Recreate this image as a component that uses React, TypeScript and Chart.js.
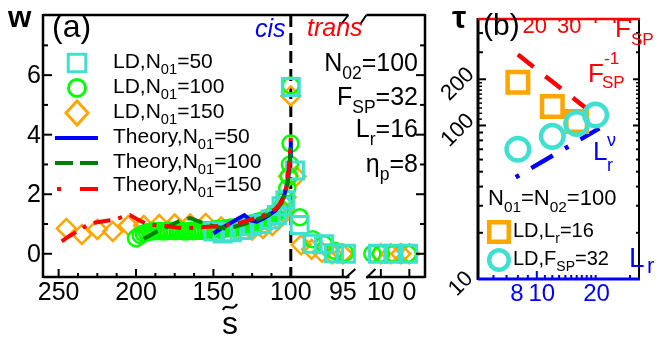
import React, { useEffect, useRef } from 'react';
import { Chart, registerables, LinearScale } from 'chart.js';

Chart.register(...registerables);

const FONT = '"Liberation Sans", Arial, Helvetica, sans-serif';

// ---------------- Panel (a) data ----------------
// LD, N01=50 (squares)
const ld50S = [150, 144, 138, 131, 125, 119, 113, 109, 106, 103.5, 100, 99.6, 99.15, 97.9, 96.8, 95.85, 94.7, 11, 5.5, 0.5];
const ld50W = [0.75, 0.68, 0.72, 0.8, 0.92, 1.0, 1.15, 1.3, 1.6, 1.8, 5.6, 2.8, 0.97, 0.34, 0.32, 0.02, 0.0, 0, 0, 0];
// LD, N01=100 (circles)
const ld100S = [200, 197, 195, 193, 191, 189, 187, 185, 183, 181, 179, 177, 175, 173, 171, 169, 167, 165, 163, 161, 159, 157, 155, 153, 151, 149, 147, 145, 143, 141, 139, 137, 135, 133, 131, 129, 127, 125, 123, 121, 119, 117, 115, 113, 111, 109, 107, 105, 103.5, 102.3, 101.3, 100.6, 100.2, 100, 99.15, 97.9, 96.8, 95.8, 94.8, 13, 10, 5.5, 0.5];
const ld100W = [0.52, 0.62, 0.68, 0.72, 0.74, 0.76, 0.76, 0.77, 0.75, 0.76, 0.78, 0.77, 0.76, 0.78, 0.77, 0.75, 0.76, 0.77, 0.76, 0.78, 0.77, 0.78, 0.8, 0.78, 0.8, 0.82, 0.83, 0.8, 0.85, 0.86, 0.88, 0.87, 0.9, 0.92, 0.95, 0.97, 1.0, 1.02, 1.05, 1.08, 1.1, 1.15, 1.2, 1.25, 1.32, 1.4, 1.5, 1.65, 1.85, 2.2, 2.6, 3.0, 3.7, 5.65, 1.23, 0.49, 0.32, 0.1, 0.03, 0, 0, 0, 0];
// LD, N01=150 (diamonds)
const ld150S = [245, 235, 225, 215, 205, 195, 185, 175, 165, 155, 145, 135, 125, 118, 112, 108, 105, 103, 101.5, 100, 99.5, 99, 98, 97, 96, 95, 10, 6.5, 3, 0];
const ld150W = [0.85, 0.65, 0.82, 0.75, 0.95, 0.95, 0.98, 1.0, 1.0, 1.02, 0.9, 0.8, 0.8, 0.85, 0.95, 1.15, 1.4, 1.9, 2.6, 5.3, 2.6, 0.3, 0.15, 0.05, 0, 0, 0, 0, 0, 0];
// Theory curves
const th50S = [150, 145, 140, 135, 130, 126, 122, 118, 114, 110, 107, 104, 102, 101, 100.4, 100];
const th50W = [0.68, 0.85, 1.0, 1.15, 1.3, 1.12, 1.08, 1.18, 1.3, 1.45, 1.65, 2.0, 2.45, 2.9, 3.3, 3.8];
const th100S = [195, 190, 185, 180, 172, 165, 160, 155, 148, 142, 137, 130, 122, 115, 110, 106, 103, 101.5, 100.5, 100];
const th100W = [0.5, 0.65, 0.8, 0.9, 1.1, 1.2, 1.1, 1.0, 0.9, 0.85, 0.9, 1.0, 1.15, 1.3, 1.45, 1.7, 2.1, 2.6, 3.2, 3.8];
const th150S = [248, 243, 238, 232, 226, 220, 214, 208, 204, 199, 193, 186, 180, 174, 168, 162, 156, 150, 144, 138, 132, 126, 120, 115, 110, 106, 103, 101.5, 100.5, 100];
const th150W = [0.42, 0.6, 0.75, 0.95, 1.05, 1.1, 1.15, 1.25, 1.3, 1.15, 1.0, 0.95, 0.93, 0.88, 0.85, 0.88, 0.9, 0.92, 0.95, 1.0, 1.05, 1.15, 1.25, 1.35, 1.5, 1.75, 2.2, 2.8, 3.4, 3.9];

const aXMajor = [250, 200, 150, 100, 95, 10, 0];
const aXMinor = [237.5, 225, 212.5, 187.5, 175, 162.5, 137.5, 125, 112.5];
const aYTicks = [0, 1, 2, 3, 4, 5, 6, 7];
const aYLabels = [0, 2, 4, 6];
const cisTransS = 100;

// broken s~ axis: knots (value -> fraction of axis width)
const breakS = [260.1, 100, 93.5, 17.9, -5.5];
const breakF = [0, 0.6487, 0.8256, 0.8256, 1];

function sToFrac(s: number) {
  const S = breakS, F = breakF;
  if (s >= S[0]) return F[0] - ((s - S[0]) / (S[0] - S[1])) * (F[1] - F[0]);
  for (let i = 0; i < S.length - 1; i++) {
    if (s <= S[i] && s >= S[i + 1]) {
      const d = S[i] - S[i + 1];
      return d === 0 ? F[i] : F[i] + ((S[i] - s) / d) * (F[i + 1] - F[i]);
    }
  }
  const n = S.length - 1;
  return F[n] + ((S[n] - s) / (S[n - 1] - S[n])) * (F[n] - F[n - 1]);
}

class BrokenAxis extends LinearScale {
  static id = 'brokenS';
  getPixelForValue(v: any) {
    if (v === null || v === undefined || isNaN(v)) return NaN;
    return this.getPixelForDecimal(sToFrac(+v));
  }
}
Chart.register(BrokenAxis as any);

// ---------------- Panel (b) data ----------------
const fspVals = [16, 24, 32];
const tauFsp = [191, 133, 106];
const lrVals = [8, 12, 16, 20];
const tauLr = [70, 85, 103, 117];
const fitFspX = [16, 35.6];
const fitFspY = [290, 130];
const fitLrX = [7.8, 20.9];
const fitLrY = [46, 95.8];
const bYMinor = [20, 30, 40, 50, 60, 70, 80, 90, 300, 400];
const bYFine = [110, 120, 130, 140, 150, 160, 170, 180, 190];
const bYMajor = [100, 200];
const bLrTicks = [6, 7, 8, 9, 10, 11, 12, 13, 14, 15, 16, 17, 18, 19, 20, 30];
const bLrLabels = [8, 10, 20];
const bFspLabels = [20, 30];
const bFspTicks = [20, 30, 40, 50, 60];
const bYLabels = ['10', '100', '200'];
const bYLabelVals = [10, 100, 200];

const pts = (xs: number[], ys: number[]) => xs.map((x, i) => ({ x, y: ys[i] }));

type Part = [string, number]; // 0 normal, 1 sub, 2 sup
function fontStr(size: number, style = '') {
  return `${style ? style + ' ' : ''}${size}px ${FONT}`;
}
function drawRich(ctx: CanvasRenderingContext2D, parts: Part[], x: number, y: number, size: number, color: string, align = 'left', style = '', subRatio = 0.7) {
  let w = 0;
  for (const [t, m] of parts) {
    ctx.font = fontStr(m ? size * subRatio : size, style);
    w += ctx.measureText(t).width;
  }
  let cx = align === 'left' ? x : align === 'right' ? x - w : x - w / 2;
  ctx.fillStyle = color;
  ctx.textAlign = 'left';
  ctx.textBaseline = 'alphabetic';
  for (const [t, m] of parts) {
    const fs = m ? size * subRatio : size;
    ctx.font = fontStr(fs, style);
    const dy = m === 1 ? size * 0.3 : m === 2 ? -size * 0.42 : 0;
    ctx.fillText(t, cx, y + dy);
    cx += ctx.measureText(t).width;
  }
}
function line(ctx: CanvasRenderingContext2D, x1: number, y1: number, x2: number, y2: number) {
  ctx.beginPath();
  ctx.moveTo(x1, y1);
  ctx.lineTo(x2, y2);
  ctx.stroke();
}

const TURQ = '#40e0d0';
const LIME = '#00ff00';
const ORANGE = '#ffa500';

const panelAPlugin = {
  id: 'panelA',
  beforeDatasetsDraw(chart: any) {
    const { ctx, chartArea, scales } = chart;
    const px = scales.x.getPixelForValue(cisTransS);
    ctx.save();
    ctx.strokeStyle = '#000';
    ctx.lineWidth = 3;
    ctx.setLineDash([12, 6]);
    line(ctx, px, chartArea.top, px, chartArea.bottom);
    ctx.restore();
  },
  afterDraw(chart: any) {
    const { ctx, chartArea: ca, scales } = chart;
    const xs = scales.x, ys = scales.y;
    ctx.save();
    ctx.strokeStyle = '#000';
    ctx.lineWidth = 2.5;
    ctx.setLineDash([]);
    const c = xs.getPixelForDecimal(breakF[2]);
    // frame
    line(ctx, ca.left, ca.top - 1, ca.left, ca.bottom + 1);
    line(ctx, ca.right, ca.top - 1, ca.right, ca.bottom + 1);
    line(ctx, ca.left, ca.top, c - 10, ca.top);
    line(ctx, c + 8, ca.top, ca.right, ca.top);
    line(ctx, ca.left, ca.bottom, c - 9, ca.bottom);
    line(ctx, c + 8, ca.bottom, ca.right, ca.bottom);
    ctx.lineWidth = 2;
    line(ctx, c - 10, ca.top, c - 17, ca.top + 9);
    line(ctx, c + 8, ca.top, c + 2, ca.top + 9);
    line(ctx, c - 13, ca.bottom + 1, c - 3, ca.bottom - 8);
    line(ctx, c + 8, ca.bottom + 1, c + 17, ca.bottom - 8);
    // y ticks
    ctx.lineWidth = 2;
    for (const v of aYTicks) {
      const y = ys.getPixelForValue(v);
      const len = v % 2 === 0 ? 9 : 5;
      line(ctx, ca.left, y, ca.left + len, y);
      line(ctx, ca.right, y, ca.right - len, y);
    }
    for (const v of aXMajor) {
      const x = xs.getPixelForValue(v);
      line(ctx, x, ca.bottom, x, ca.bottom - 8);
    }
    for (const v of aXMinor) {
      const x = xs.getPixelForValue(v);
      line(ctx, x, ca.bottom, x, ca.bottom - 4);
    }
    // tick labels
    ctx.fillStyle = '#000';
    ctx.font = fontStr(25);
    ctx.textAlign = 'right';
    ctx.textBaseline = 'middle';
    for (const v of aYLabels) ctx.fillText(String(v), 41, ys.getPixelForValue(v) + 1);
    ctx.textAlign = 'center';
    ctx.textBaseline = 'alphabetic';
    for (const v of aXMajor) ctx.fillText(String(v), xs.getPixelForValue(v), 300);
    // axis titles
    ctx.font = fontStr(30, 'bold');
    ctx.textAlign = 'left';
    ctx.fillText('w', 8, 27);
    ctx.font = fontStr(32);
    ctx.textAlign = 'center';
    ctx.fillText('s', 230, 334);
    ctx.lineWidth = 2.2;
    ctx.beginPath();
    ctx.moveTo(223, 310);
    ctx.bezierCurveTo(226, 302, 232, 313, 237, 304);
    ctx.stroke();
    // panel label
    ctx.textAlign = 'left';
    ctx.font = fontStr(32);
    ctx.fillText('(a)', 52, 37);
    // cis / trans
    ctx.font = fontStr(25, 'italic');
    ctx.fillStyle = '#0000ff';
    ctx.fillText('cis', 255, 37);
    ctx.fillStyle = '#ff0000';
    ctx.fillText('trans', 307, 36);
    // parameters
    drawRich(ctx, [['N', 0], ['02', 1], ['=100', 0]], 418, 71, 25, '#000', 'right');
    drawRich(ctx, [['F', 0], ['SP', 1], ['=32', 0]], 418, 105, 25, '#000', 'right');
    drawRich(ctx, [['L', 0], ['r', 1], ['=16', 0]], 418, 137, 25, '#000', 'right');
    drawRich(ctx, [['\u03B7', 0], ['p', 1], ['=8', 0]], 418, 172, 25, '#000', 'right');
    // legend
    const lx = 77;
    ctx.lineWidth = 3;
    ctx.strokeStyle = TURQ;
    ctx.strokeRect(lx - 8.75, 63 - 8.75, 17.5, 17.5);
    ctx.strokeStyle = LIME;
    ctx.beginPath();
    ctx.arc(lx, 88, 8.5, 0, Math.PI * 2);
    ctx.stroke();
    ctx.strokeStyle = ORANGE;
    ctx.beginPath();
    ctx.moveTo(lx - 11, 113);
    ctx.lineTo(lx, 101);
    ctx.lineTo(lx + 11, 113);
    ctx.lineTo(lx, 125);
    ctx.closePath();
    ctx.stroke();
    ctx.lineWidth = 4;
    ctx.strokeStyle = '#0000ff';
    line(ctx, 55, 138, 98, 138);
    ctx.strokeStyle = '#008000';
    line(ctx, 55, 163, 73, 163);
    line(ctx, 80, 163, 98, 163);
    ctx.strokeStyle = '#ff0000';
    line(ctx, 57, 189, 61, 189);
    line(ctx, 80, 189, 98, 189);
    const tx = 113;
    drawRich(ctx, [['LD,N', 0], ['01', 1], ['=50', 0]], tx, 68, 21, '#000');
    drawRich(ctx, [['LD,N', 0], ['01', 1], ['=100', 0]], tx, 93, 21, '#000');
    drawRich(ctx, [['LD,N', 0], ['01', 1], ['=150', 0]], tx, 118, 21, '#000');
    drawRich(ctx, [['Theory,N', 0], ['01', 1], ['=50', 0]], tx, 143, 21, '#000');
    drawRich(ctx, [['Theory,N', 0], ['01', 1], ['=100', 0]], tx, 168, 21, '#000');
    drawRich(ctx, [['Theory,N', 0], ['01', 1], ['=150', 0]], tx, 191, 21, '#000');
    ctx.restore();
  },
};

const panelBPlugin = {
  id: 'panelB',
  afterDraw(chart: any) {
    const { ctx, chartArea: ca, scales } = chart;
    const xl = scales.x, xf = scales.x2, ys = scales.y;
    ctx.save();
    ctx.setLineDash([]);
    // frame
    ctx.lineWidth = 3;
    ctx.strokeStyle = '#000';
    line(ctx, ca.left, ca.top - 1, ca.left, ca.bottom + 1);
    ctx.lineWidth = 2;
    line(ctx, ca.right, ca.top, ca.right, ca.bottom);
    ctx.lineWidth = 2.5;
    ctx.strokeStyle = '#ff0000';
    line(ctx, ca.left, ca.top, ca.right + 1, ca.top);
    ctx.lineWidth = 3;
    ctx.strokeStyle = '#0000ff';
    line(ctx, ca.left, ca.bottom, ca.right + 1, ca.bottom);
    // y ticks
    ctx.strokeStyle = '#000';
    ctx.lineWidth = 2;
    for (const v of bYMinor) {
      const y = ys.getPixelForValue(v);
      line(ctx, ca.left, y, ca.left + 5, y);
      line(ctx, ca.right, y, ca.right - 3, y);
    }
    ctx.lineWidth = 1.5;
    for (const v of bYFine) {
      const y = ys.getPixelForValue(v);
      line(ctx, ca.left, y, ca.left + 4, y);
      line(ctx, ca.right, y, ca.right - 3, y);
    }
    ctx.lineWidth = 2;
    for (const v of bYMajor) {
      const y = ys.getPixelForValue(v);
      line(ctx, ca.left, y, ca.left + 8, y);
      line(ctx, ca.right, y, ca.right - 6, y);
    }
    // bottom (L_r) ticks
    ctx.strokeStyle = '#0000ff';
    for (const v of bLrTicks) {
      const x = xl.getPixelForValue(v);
      const len = v === 10 ? 8 : 4;
      line(ctx, x, ca.bottom, x, ca.bottom - len);
    }
    // top (F_SP) ticks
    ctx.strokeStyle = '#ff0000';
    for (const v of bFspTicks) {
      const x = xf.getPixelForValue(v);
      line(ctx, x, ca.top, x, ca.top + 4);
    }
    // tick labels (bottom, L_r)
    ctx.fillStyle = '#0000ff';
    ctx.font = fontStr(24);
    ctx.textAlign = 'center';
    ctx.textBaseline = 'alphabetic';
    for (const v of bLrLabels) {
      const shift = v === 10 ? 5 : v === 20 ? 1 : -1;
      ctx.fillText(String(v), xl.getPixelForValue(v) + shift, 301);
    }
    ctx.fillStyle = '#ff0000';
    ctx.font = fontStr(22);
    for (const v of bFspLabels) ctx.fillText(String(v), xf.getPixelForValue(v) - 2, 33);
    // rotated y labels
    ctx.fillStyle = '#000';
    ctx.font = fontStr(22);
    ctx.textBaseline = 'middle';
    bYLabelVals.forEach((v, i) => {
      const t = bYLabels[i];
      const y = ys.getPixelForValue(v) + 5;
      const x = t.length === 2 ? 21 : 18;
      ctx.save();
      ctx.translate(x, y);
      ctx.rotate(-Math.PI / 4);
      ctx.fillText(t, 0, 0);
      ctx.restore();
    });
    ctx.textBaseline = 'alphabetic';
    ctx.textAlign = 'left';
    // titles
    ctx.font = fontStr(32, 'bold');
    ctx.fillText('\u03C4', 12, 28);
    ctx.font = fontStr(30);
    ctx.fillText('(b)', 43, 35);
    drawRich(ctx, [['F', 0], ['SP', 1]], 175, 37, 26, '#ff0000', 'left', '', 0.66);
    // F_SP^-1
    ctx.fillStyle = '#ff0000';
    ctx.font = fontStr(26);
    ctx.fillText('F', 148, 82);
    ctx.font = fontStr(17);
    ctx.fillText('-1', 164, 64);
    ctx.fillText('SP', 162, 88);
    // L_r^nu
    ctx.fillStyle = '#0000ff';
    ctx.font = fontStr(26);
    ctx.fillText('L', 153, 160);
    ctx.font = fontStr(18);
    ctx.fillText('\u03BD', 167, 146);
    ctx.fillText('r', 167, 171);
    // L_r axis label
    ctx.font = fontStr(28);
    ctx.fillText('L', 189, 267);
    ctx.font = fontStr(22);
    ctx.fillText('r', 207, 273);
    // legend
    drawRich(ctx, [['N', 0], ['01', 1], ['=N', 0], ['02', 1], ['=100', 0]], 48, 205, 22, '#000');
    ctx.lineWidth = 4.5;
    ctx.strokeStyle = ORANGE;
    ctx.strokeRect(59 - 9.75, 232 - 9.75, 19.5, 19.5);
    ctx.strokeStyle = TURQ;
    ctx.beginPath();
    ctx.arc(59, 260, 9.8, 0, Math.PI * 2);
    ctx.stroke();
    drawRich(ctx, [['LD,L', 0], ['r', 1], ['=16', 0]], 73, 237, 20, '#000');
    drawRich(ctx, [['LD,F', 0], ['SP', 1], ['=32', 0]], 73, 265, 20, '#000');
    ctx.restore();
  },
};

export default function App() {
  const refA = useRef<HTMLCanvasElement>(null);
  const refB = useRef<HTMLCanvasElement>(null);

  useEffect(() => {
    document.body.style.margin = '0';
    const none = 'rgba(0,0,0,0)';
    const marker = (data: any[], style: string, r: number, color: string, bw: number, order: number, xAxisID = 'x') => ({
      data,
      xAxisID,
      showLine: false,
      pointStyle: style,
      pointRadius: r,
      pointBorderWidth: bw,
      pointBorderColor: color,
      pointBackgroundColor: none,
      borderColor: color,
      backgroundColor: none,
      order,
    });
    const curve = (data: any[], color: string, dash: number[], order: number, bw = 4, xAxisID = 'x') => ({
      data,
      xAxisID,
      showLine: true,
      borderColor: color,
      borderWidth: bw,
      borderDash: dash,
      borderCapStyle: 'butt',
      pointRadius: 0,
      fill: false,
      tension: 0,
      order,
    });

    const chartA = new Chart(refA.current as HTMLCanvasElement, {
      type: 'line',
      data: {
        datasets: [
          curve(pts(th150S, th150W), '#ff0000', [17, 8, 4, 8], 1),
          curve(pts(th100S, th100W), '#008000', [16, 8], 2),
          curve(pts(th50S, th50W), '#0000ff', [], 3),
          marker(pts(ld50S, ld50W), 'rect', 12, TURQ, 3, 4),
          marker(pts(ld100S, ld100W), 'circle', 8, LIME, 2.5, 5),
          marker(pts(ld150S, ld150W), 'rectRot', 9.5, ORANGE, 2.5, 6),
        ] as any,
      },
      options: {
        responsive: false,
        animation: false,
        events: [],
        layout: { padding: { left: 43, top: 6, right: 7, bottom: 62 } },
        plugins: { legend: { display: false }, tooltip: { enabled: false } },
        scales: {
          x: { type: 'brokenS' as any, min: -5.5, max: 260.1, display: false },
          y: { type: 'linear', min: -0.78, max: 8.02, display: false },
        },
      } as any,
      plugins: [panelAPlugin],
    });

    const chartB = new Chart(refB.current as HTMLCanvasElement, {
      type: 'line',
      data: {
        datasets: [
          marker(pts(lrVals, tauLr), 'circle', 11.3, TURQ, 4.5, 1, 'x'),
          marker(pts(fspVals, tauFsp), 'rect', 14.5, ORANGE, 4.5, 2, 'x2'),
          curve(pts(fitFspX, fitFspY), '#ff0000', [20, 15], 3, 4.5, 'x2'),
          curve(pts(fitLrX, fitLrY), '#0000ff', [4, 14, 25, 14], 4, 4.5, 'x'),
        ] as any,
      },
      options: {
        responsive: false,
        animation: false,
        events: [],
        layout: { padding: { left: 38, top: 8, right: 2, bottom: 60 } },
        plugins: { legend: { display: false }, tooltip: { enabled: false } },
        scales: {
          x: { type: 'logarithmic', position: 'bottom', min: 5, max: 33.35, display: false },
          x2: { type: 'logarithmic', position: 'top', min: 10, max: 66.7, display: false },
          y: { type: 'logarithmic', min: 10, max: 494, display: false },
        },
      } as any,
      plugins: [panelBPlugin],
    });

    return () => {
      chartA.destroy();
      chartB.destroy();
    };
  }, []);

  return (
    <div style={{ position: 'relative', width: 658, height: 339, background: '#fff', overflow: 'hidden' }}>
      <canvas ref={refA} width={440} height={339} style={{ position: 'absolute', left: 0, top: 0, width: 440, height: 339 }} />
      <canvas ref={refB} width={218} height={339} style={{ position: 'absolute', left: 440, top: 0, width: 218, height: 339 }} />
    </div>
  );
}
